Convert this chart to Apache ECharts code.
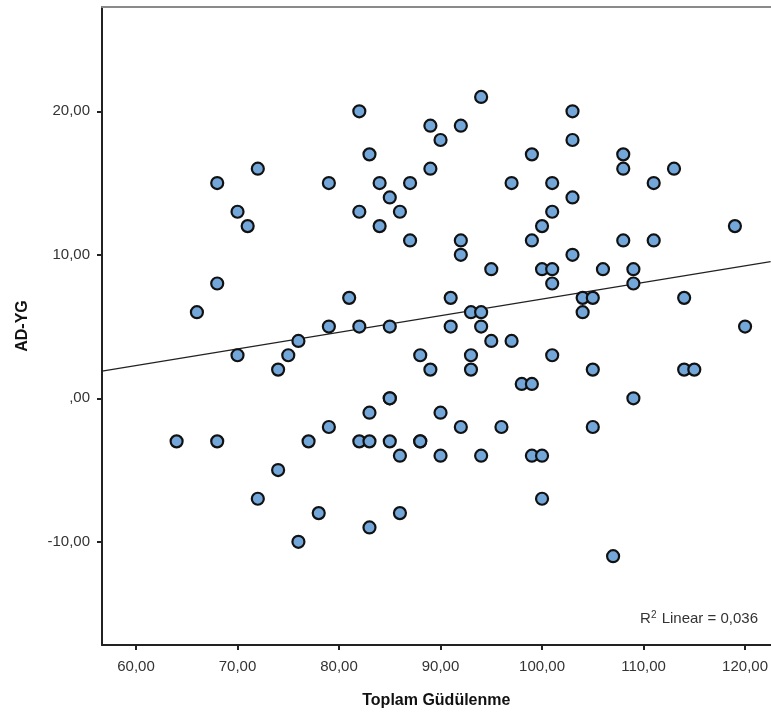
<!DOCTYPE html>
<html>
<head>
<meta charset="utf-8">
<script src="https://cdn.jsdelivr.net/npm/echarts@6/dist/echarts.min.js"></script>
<style>
  html, body { margin: 0; padding: 0; background: #fff; }
  #chart { width: 771px; height: 715px; }
</style>
</head>
<body>
<div id="chart"></div>
<script>
// Toplam Güdülenme (x) against AD-YG (y), one entry per respondent
const toplamGudulenme = [
  72, 68, 79, 70, 71, 68, 66, 79, 94, 82, 103, 89, 92, 90, 103, 83, 99, 89, 84, 87,
  97, 101, 85, 103, 82, 86, 101, 84, 100, 87, 92, 99, 103, 92, 95, 100, 101, 101, 81, 91,
  93, 94, 82, 85, 91, 94, 108, 108, 113, 111, 119, 108, 111, 106, 109, 109, 104, 105, 114, 104,
  120, 76, 75, 70, 74, 79, 64, 68, 77, 74, 72, 78, 76, 95, 97, 88, 93, 101, 89, 93,
  98, 99, 85, 83, 90, 92, 96, 82, 83, 85, 88, 86, 90, 94, 99, 100, 100, 86, 83, 105,
  114, 115, 109, 105, 107, 85, 88
];
const adYg = [
  16, 15, 15, 13, 12, 8, 6, 5, 21, 20, 20, 19, 19, 18, 18, 17, 17, 16, 15, 15,
  15, 15, 14, 14, 13, 13, 13, 12, 12, 11, 11, 11, 10, 10, 9, 9, 9, 8, 7, 7,
  6, 6, 5, 5, 5, 5, 17, 16, 16, 15, 12, 11, 11, 9, 9, 8, 7, 7, 7, 6,
  5, 4, 3, 3, 2, -2, -3, -3, -3, -5, -7, -8, -10, 4, 4, 3, 3, 3, 2, 2,
  1, 1, 0, -1, -1, -2, -2, -3, -3, -3, -3, -4, -4, -4, -4, -4, -7, -8, -9, 2,
  2, 2, 0, -2, -11, 0, -3
];

const xTicks = [60, 70, 80, 90, 100, 110, 120];
const yTicks = [-10, 0, 10, 20];
const xRange = [56.65, 122.52];
const yRange = [-17.19, 27.27];

const points = toplamGudulenme.map((x, i) => [x, adYg[i]]);

// ordinary least squares fit and its R²
function linearFit(xs, ys) {
  const n = xs.length;
  const mx = xs.reduce((a, b) => a + b, 0) / n;
  const my = ys.reduce((a, b) => a + b, 0) / n;
  let sxy = 0, sxx = 0, syy = 0;
  for (let i = 0; i < n; i++) {
    sxy += (xs[i] - mx) * (ys[i] - my);
    sxx += (xs[i] - mx) ** 2;
    syy += (ys[i] - my) ** 2;
  }
  const slope = sxy / sxx;
  return { slope, intercept: my - slope * mx, r2: (sxy * sxy) / (sxx * syy) };
}
const fit = linearFit(toplamGudulenme, adYg);
const fitLine = xRange.map(x => [x, fit.intercept + fit.slope * x]);

const fmt = v => (v === 0 ? ',00' : v.toFixed(2).replace('.', ','));
const r2Text = fit.r2.toFixed(3).replace('.', ',');

const FONT = 'Liberation Sans, Arial, sans-serif';
const labelFont = { fontFamily: FONT, fontSize: 15, color: '#333' };
const titleFont = { fontFamily: FONT, fontSize: 16, fontWeight: 'bold', color: '#111' };

const chart = echarts.init(document.getElementById('chart'));
chart.setOption({
  animation: false,
  backgroundColor: '#fff',
  grid: { left: 102, right: 0, top: 7, bottom: 70, containLabel: false },
  xAxis: [{
    type: 'value',
    min: xRange[0], max: xRange[1],
    name: 'Toplam Güdülenme',
    nameLocation: 'middle',
    nameGap: 48,
    nameTextStyle: titleFont,
    axisLine: { show: true, onZero: false, lineStyle: { color: '#222', width: 2 } },
    axisTick: { show: true, length: 5, customValues: xTicks, lineStyle: { color: '#222', width: 2 } },
    axisLabel: { ...labelFont, margin: 14, customValues: xTicks, formatter: fmt },
    splitLine: { show: false }
  }, {
    type: 'value',
    position: 'top',
    min: xRange[0], max: xRange[1],
    axisLine: { show: true, onZero: false, lineStyle: { color: '#8a8a8a', width: 2 } },
    axisTick: { show: false },
    axisLabel: { show: false },
    splitLine: { show: false }
  }],
  yAxis: {
    type: 'value',
    min: yRange[0], max: yRange[1],
    name: 'AD-YG',
    nameLocation: 'middle',
    nameGap: 71,
    nameRotate: 90,
    nameTextStyle: titleFont,
    axisLine: { show: true, onZero: false, lineStyle: { color: '#222', width: 2 } },
    axisTick: { show: true, length: 5, customValues: yTicks, lineStyle: { color: '#222', width: 2 } },
    axisLabel: { ...labelFont, margin: 12, customValues: yTicks, formatter: fmt },
    splitLine: { show: false }
  },
  series: [{
    type: 'line',
    data: fitLine,
    symbol: 'none',
    silent: true,
    lineStyle: { color: '#222', width: 1.2 },
    z: 1
  }, {
    type: 'scatter',
    data: points,
    symbol: 'circle',
    symbolSize: 12,
    itemStyle: { color: '#73a7da', borderColor: '#111', borderWidth: 2.2, opacity: 1 },
    z: 2
  }],
  graphic: [{
    type: 'text',
    right: 13,
    top: 610,
    style: {
      rich: {
        b: { fontFamily: FONT, fontSize: 15, fill: '#333' },
        s: { fontFamily: FONT, fontSize: 10, fill: '#333', verticalAlign: 'top', padding: [0, 1, 7, 0] }
      },
      text: '{b|R}{s|2}{b| Linear = ' + r2Text + '}'
    }
  }]
});
</script>
</body>
</html>
